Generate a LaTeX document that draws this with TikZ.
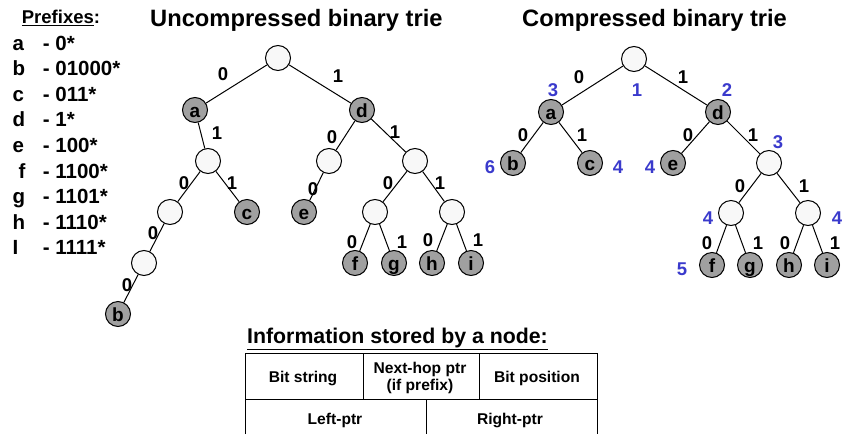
\documentclass[tikz,border=0pt]{standalone}
\usepackage{fontspec}
\setmainfont{Liberation Sans}
\usepackage{tikz}
\definecolor{keygray}{HTML}{A0A0A0}
\definecolor{emptywhite}{HTML}{F8F8F8}
\definecolor{posblue}{HTML}{3A3ACC}
\tikzset{
  font={\fontsize{16pt}{18pt}\bfseries\selectfont}}
\tikzset{
  empty/.style={circle,draw,fill=emptywhite,minimum size=25pt,line width=1pt},
  key/.style={circle,draw,fill=keygray,minimum size=25pt,line width=1pt,
    text height=14pt,text depth=0pt,font={\fontsize{19pt}{20pt}\bfseries\selectfont}},
  bit/.style={font={\fontsize{18.5pt}{20pt}\bfseries\selectfont}},
  bitnum/.style={text=posblue,font={\fontsize{18.5pt}{22pt}\bfseries\selectfont}},
  heading/.style={anchor=base west,font={\fontsize{23.7pt}{26pt}\bfseries\selectfont}},
  cell/.style={align=center,font={\fontsize{15.6pt}{17pt}\bfseries\selectfont}}}

\begin{document}
\begin{tikzpicture}[x=1pt,y=-1pt]
\tikzstyle{every node}+=[inner sep=0pt]
\useasboundingbox (0,0) rectangle (843,434);
% prefix list
\node [anchor=base west,font={\fontsize{18.5pt}{20pt}\bfseries\selectfont}] (ptitle) at (21.7,23.3) {\underline{Prefixes}:};
\foreach \l/\v/\x [count=\k from 0] in {a/0*/12.5,b/01000*/12.5,c/011*/12.5,d/1*/12.5,e/100*/12.5,f/1100*/18.3,g/1101*/12.5,h/1110*/12.5,I/1111*/12.5}
{
  \node [anchor=base west,font={\fontsize{20.5pt}{22pt}\bfseries\selectfont}] (pk\k) at (\x,50+25.6*\k) {\l};
  \node [anchor=base west,font={\fontsize{20.5pt}{22pt}\bfseries\selectfont}] (pv\k) at (42.7,50+25.6*\k) {- \v};
}
% uncompressed trie
\node [heading] (utitle) at (150,26.7) {Uncompressed binary trie};
\node [empty] (u0) at (278,58) {};
\node [key] (ua) at (195,110) {a};
\node [key] (ud) at (362,110) {d};
\node [empty] (u01) at (208,161) {};
\node [empty] (u10) at (329,161) {};
\node [empty] (u11) at (415,161) {};
\node [empty] (u010) at (170,212) {};
\node [key] (uc) at (247,212) {c};
\node [key] (ue) at (304,212) {e};
\node [empty] (u110) at (375,212) {};
\node [empty] (u111) at (452,212) {};
\node [empty] (u0100) at (144,263) {};
\node [key] (uf) at (355,263) {f};
\node [key] (ug) at (394,263) {g};
\node [key] (uh) at (432,263) {h};
\node [key] (ui) at (471,263) {i};
\node [key] (ub) at (118,314) {b};
\draw [line width=1pt] (u0) -- (ua);
\draw [line width=1pt] (u0) -- (ud);
\draw [line width=1pt] (ua) -- (u01);
\draw [line width=1pt] (ud) -- (u10);
\draw [line width=1pt] (ud) -- (u11);
\draw [line width=1pt] (u01) -- (u010);
\draw [line width=1pt] (u01) -- (uc);
\draw [line width=1pt] (u10) -- (ue);
\draw [line width=1pt] (u11) -- (u110);
\draw [line width=1pt] (u11) -- (u111);
\draw [line width=1pt] (u010) -- (u0100);
\draw [line width=1pt] (u110) -- (uf);
\draw [line width=1pt] (u110) -- (ug);
\draw [line width=1pt] (u111) -- (uh);
\draw [line width=1pt] (u111) -- (ui);
\draw [line width=1pt] (u0100) -- (ub);
\node [bit] (ub1) at (223,74) {0};
\node [bit] (ub2) at (338,76) {1};
\node [bit] (ub3) at (217,133) {1};
\node [bit] (ub4) at (332,137) {0};
\node [bit] (ub5) at (395,132) {1};
\node [bit] (ub6) at (184,183) {0};
\node [bit] (ub7) at (232,183) {1};
\node [bit] (ub8) at (313,189) {0};
\node [bit] (ub9) at (388,183) {0};
\node [bit] (ub10) at (440,183) {1};
\node [bit] (ub11) at (153,233) {0};
\node [bit] (ub12) at (352,242) {0};
\node [bit] (ub13) at (402,242) {1};
\node [bit] (ub14) at (428,240) {0};
\node [bit] (ub15) at (478,240) {1};
\node [bit] (ub16) at (127,285) {0};
% compressed trie
\node [heading] (ctitle) at (522,26.7) {Compressed binary trie};
\node [empty] (c0) at (634,59) {};
\node [key] (ca) at (551,112) {a};
\node [key] (cd) at (718,112) {d};
\node [key] (cb) at (513,163) {b};
\node [key] (cc) at (590,163) {c};
\node [key] (ce) at (673,163) {e};
\node [empty] (c11) at (769,163) {};
\node [empty] (c110) at (731,213) {};
\node [empty] (c111) at (808,213) {};
\node [key] (cf) at (712,265) {f};
\node [key] (cg) at (750,265) {g};
\node [key] (ch) at (789,265) {h};
\node [key] (ci) at (827,265) {i};
\draw [line width=1pt] (c0) -- (ca);
\draw [line width=1pt] (c0) -- (cd);
\draw [line width=1pt] (ca) -- (cb);
\draw [line width=1pt] (ca) -- (cc);
\draw [line width=1pt] (cd) -- (ce);
\draw [line width=1pt] (cd) -- (c11);
\draw [line width=1pt] (c11) -- (c110);
\draw [line width=1pt] (c11) -- (c111);
\draw [line width=1pt] (c110) -- (cf);
\draw [line width=1pt] (c110) -- (cg);
\draw [line width=1pt] (c111) -- (ch);
\draw [line width=1pt] (c111) -- (ci);
\node [bit] (cb1) at (579,77) {0};
\node [bit] (cb2) at (683,77) {1};
\node [bit] (cb3) at (523,135) {0};
\node [bit] (cb4) at (582,135) {1};
\node [bit] (cb5) at (688,135) {0};
\node [bit] (cb6) at (753,135) {1};
\node [bit] (cb7) at (740,186) {0};
\node [bit] (cb8) at (804,186) {1};
\node [bit] (cb9) at (707,243) {0};
\node [bit] (cb10) at (758,243) {1};
\node [bit] (cb11) at (785,243) {0};
\node [bit] (cb12) at (835,243) {1};
% bit positions
\node [bitnum] (cp1) at (553,90) {3};
\node [bitnum] (cp2) at (637,90) {1};
\node [bitnum] (cp3) at (727,90) {2};
\node [bitnum] (cp4) at (490,167) {6};
\node [bitnum] (cp5) at (618,167) {4};
\node [bitnum] (cp6) at (650,167) {4};
\node [bitnum] (cp7) at (778,142) {3};
\node [bitnum] (cp8) at (708,218) {4};
\node [bitnum] (cp9) at (837,218) {4};
\node [bitnum] (cp10) at (682,269) {5};
% node record
\node [anchor=base west,font={\fontsize{21.3pt}{23pt}\bfseries\selectfont}] (itopic) at (247,343.3) {\underline{Information stored by a node:}};
\draw [line width=1pt] (245,434) -- (245,353) -- (597,353) -- (597,434);
\draw [line width=1pt] (245,399) -- (597,399);
\draw [line width=1pt] (363,353) -- (363,399);
\draw [line width=1pt] (479,353) -- (479,399);
\draw [line width=1pt] (426,399) -- (426,434);
\node [cell] (bitstr) at (303,378) {Bit string};
\node [cell] (nexthop) at (420,378) {Next-hop ptr\\(if prefix)};
\node [cell] (bitpos) at (537,378) {Bit position};
\node [cell] (leftptr) at (335,420) {Left-ptr};
\node [cell] (rightptr) at (510,420) {Right-ptr};
\end{tikzpicture}
\end{document}
